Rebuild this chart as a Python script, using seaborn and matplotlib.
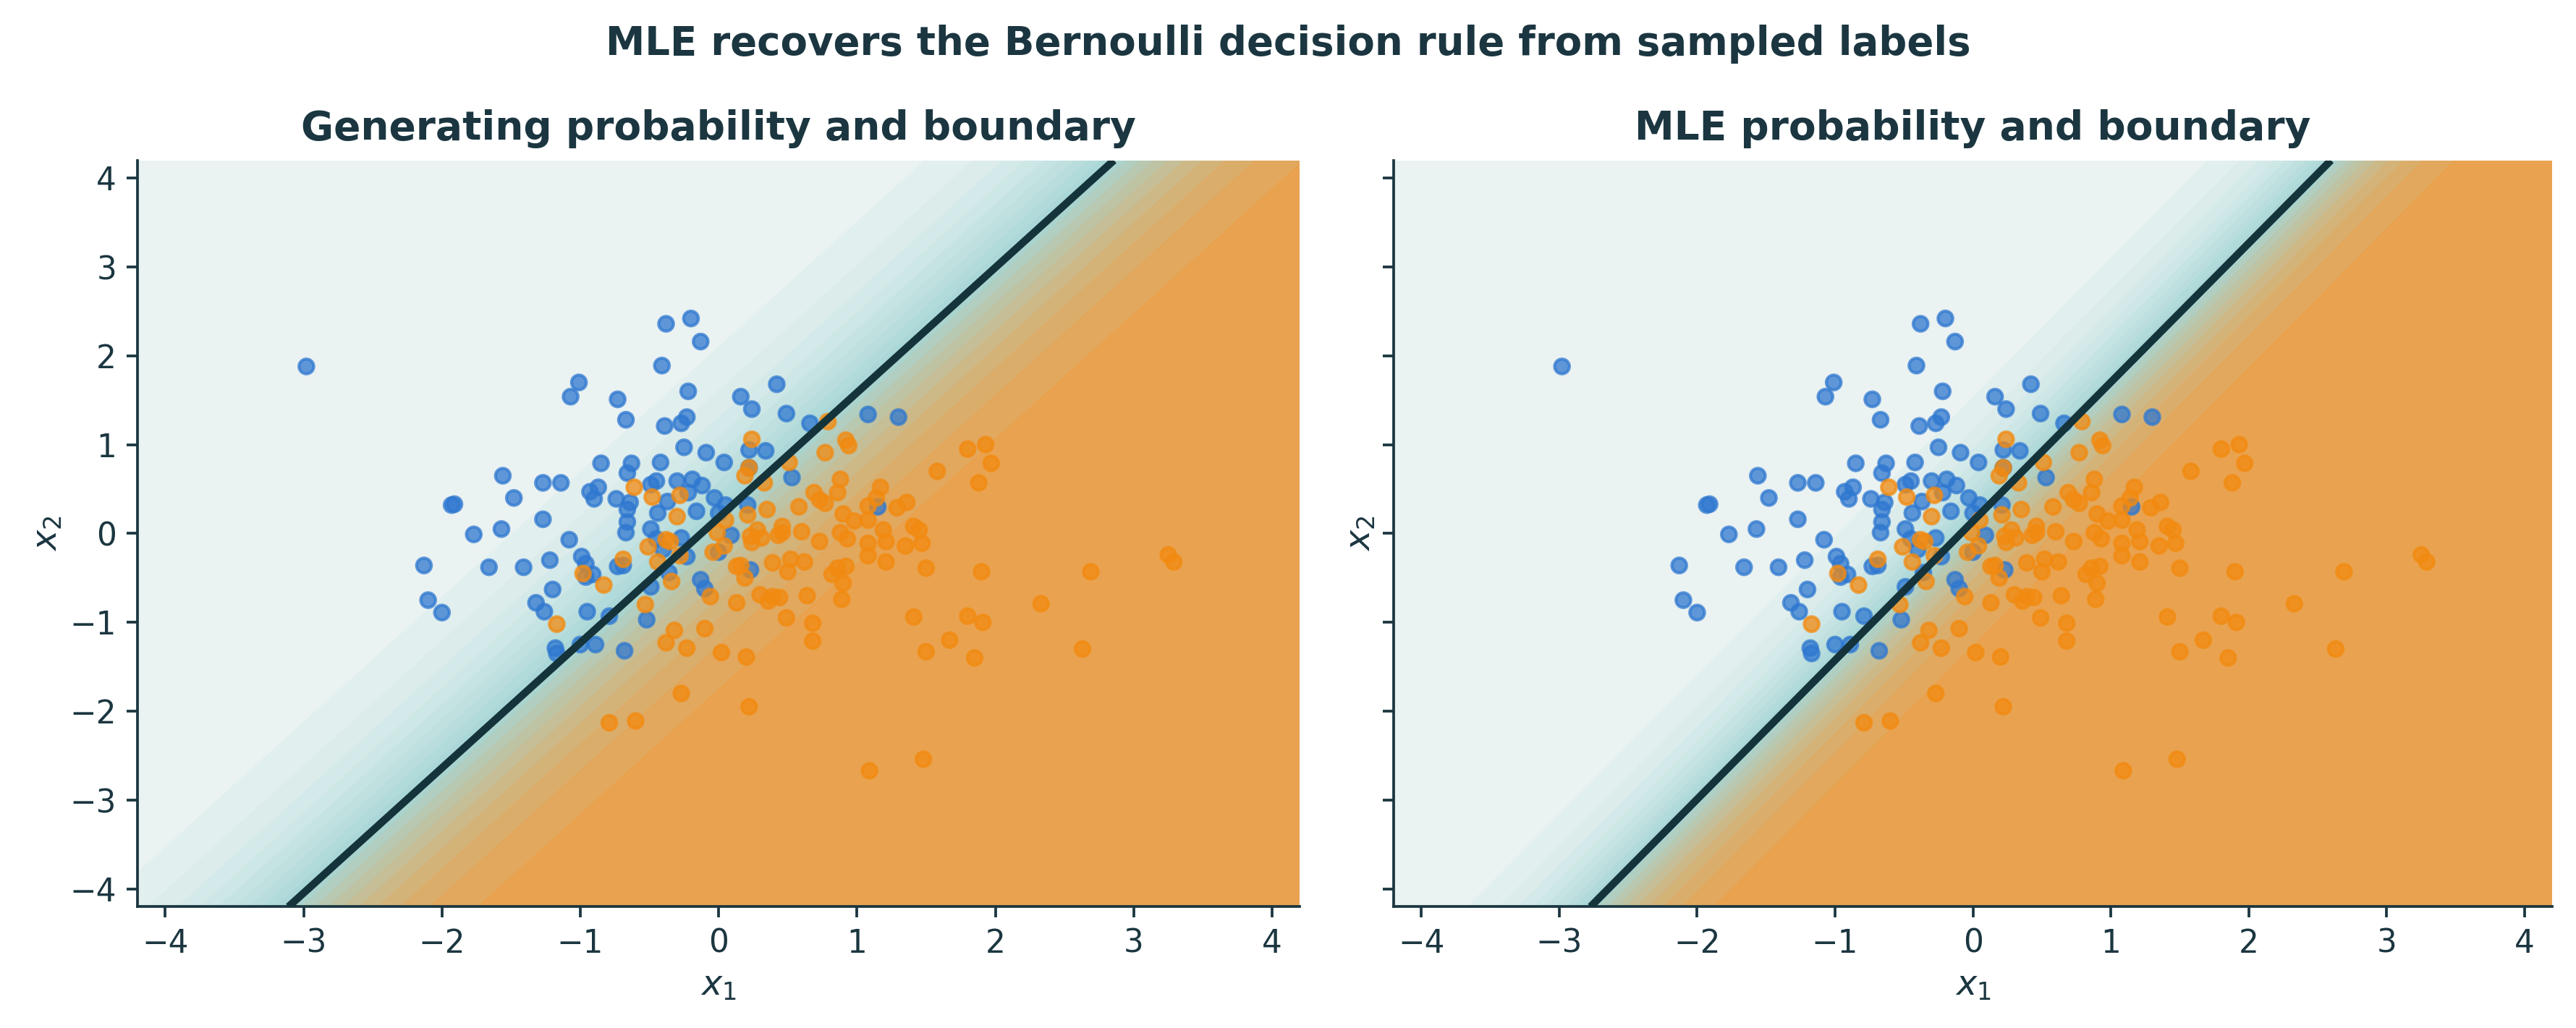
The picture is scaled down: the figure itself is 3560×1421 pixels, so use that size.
import numpy as np
import pandas as pd
import matplotlib
matplotlib.use("Agg")
import matplotlib.pyplot as plt
from matplotlib.colors import LinearSegmentedColormap
import seaborn as sns

# ---- data ----
blue_x1 = [-2.98, -0.38, -0.20, -0.13, -0.41, -1.01, -1.07, -0.73, -0.22, -0.67,
           -0.39, -0.27, -0.23, -0.25, -0.09, -0.85, -0.63, -0.66, -0.42, -1.27,
           -1.14, -1.56, -1.48, -0.93, -0.87, -0.90, -0.74, -0.64, -0.66, -0.66,
           -0.49, -0.45, -0.30, -0.19, -0.12, -0.22, -0.37, -0.44, -0.16, -0.03,
           0.04, -1.27, 0.00, 0.42, 0.16, 0.24, 0.49, 0.66, 1.08, 1.30,
           0.22, 0.34, 0.22, 0.53, 0.05, 0.21, 1.15, -1.57, -1.08, -1.22,
           -1.41, -0.99, -0.96, -0.91, -0.96, -1.20, -1.32, -1.26, -0.95, -0.79,
           -1.18, -1.17, -1.00, -0.89, -0.68, -0.73, -0.69, -0.67, -0.49, -0.45,
           -0.40, -0.27, -0.23, -0.36, -0.49, -0.52, -0.13, -0.10, 0.00, 0.09,
           0.23, -1.93, -1.91, -1.77, -2.13, -1.66, -2.10, -2.00]
blue_x2 = [1.88, 2.36, 2.42, 2.16, 1.89, 1.70, 1.54, 1.51, 1.60, 1.28,
           1.21, 1.24, 1.31, 0.97, 0.91, 0.79, 0.79, 0.68, 0.80, 0.57,
           0.57, 0.65, 0.40, 0.47, 0.52, 0.39, 0.39, 0.35, 0.27, 0.13,
           0.55, 0.59, 0.59, 0.61, 0.54, 0.46, 0.36, 0.23, 0.25, 0.40,
           0.80, 0.16, 0.23, 1.68, 1.54, 1.40, 1.35, 1.24, 1.34, 1.31,
           0.94, 0.93, 0.74, 0.63, 0.32, 0.32, 0.30, 0.05, -0.07, -0.30,
           -0.38, -0.26, -0.34, -0.46, -0.49, -0.63, -0.78, -0.88, -0.88, -0.93,
           -1.29, -1.35, -1.25, -1.25, -1.32, -0.37, -0.36, 0.01, 0.05, -0.06,
           -0.18, -0.05, -0.26, -0.44, -0.60, -0.97, -0.52, -0.62, -0.21, -0.02,
           -0.41, 0.32, 0.33, -0.01, -0.36, -0.38, -0.75, -0.89]

orange_x1 = [-0.61, -0.48, -0.28, -0.30, 0.79, 0.24, 0.92, 0.94, 0.77, 0.22,
             0.19, 0.51, 0.33, 0.88, 0.69, 0.86, 0.73, 0.77, 1.17, 1.14,
             1.08, 1.29, 1.36, 1.58, 0.58, 0.35, 0.21, 0.05, 0.90, -0.51,
             -0.38, -0.35, -0.44, -0.28, -0.69, -0.98, -0.83, -0.34, -0.53, -1.17,
             -0.32, -0.38, -0.23, -0.10, 0.02, -0.01, -0.04, -0.06, 0.98, 1.08,
             0.28, 0.23, 0.24, 0.31, 0.43, 0.46, 0.46, 0.60, 0.73, 0.88,
             0.93, 1.08, 1.08, 1.19, 1.21, 1.35, 1.41, 1.45, 1.47, 1.50,
             1.21, 0.04, 0.13, 0.16, 0.19, 0.39, 0.52, 0.62, 0.50, 0.82,
             0.86, 0.92, 0.90, 0.89, 0.13, 0.30, 0.36, 0.39, 0.44, 0.64,
             0.49, 0.68, 0.68, 1.41, 1.50, 0.20, 1.80, 1.93, 1.97, 1.88,
             1.90, 2.69, 3.25, 3.29, 2.33, 1.80, 1.91, 1.67, 1.85, 2.63,
             1.48, 1.09, -0.79, -0.60, -0.27, 0.22]
orange_x2 = [0.52, 0.41, 0.43, 0.19, 1.26, 1.06, 1.05, 0.99, 0.91, 0.74,
             0.65, 0.80, 0.57, 0.61, 0.46, 0.46, 0.38, 0.34, 0.52, 0.40,
             0.31, 0.29, 0.35, 0.70, 0.30, 0.27, 0.21, 0.15, 0.22, -0.15,
             -0.07, -0.09, -0.32, -0.25, -0.29, -0.45, -0.58, -0.54, -0.80, -1.02,
             -1.09, -1.23, -1.29, -1.07, -1.34, 0.01, -0.21, -0.71, 0.14, 0.15,
             0.04, -0.03, -0.10, -0.05, -0.02, 0.08, 0.01, 0.02, -0.09, 0.01,
             -0.06, -0.11, -0.25, 0.04, -0.09, -0.14, 0.08, 0.04, -0.11, -0.39,
             -0.32, -0.14, -0.37, -0.36, -0.50, -0.33, -0.29, -0.32, -0.43, -0.46,
             -0.39, -0.37, -0.56, -0.74, -0.78, -0.69, -0.76, -0.71, -0.72, -0.70,
             -0.95, -1.01, -1.21, -0.94, -1.33, -1.39, 0.95, 1.00, 0.79, 0.57,
             -0.43, -0.43, -0.24, -0.32, -0.79, -0.93, -1.00, -1.20, -1.40, -1.30,
             -2.54, -2.67, -2.13, -2.11, -1.80, -1.95]

# logistic model parameters (w1, w2, b) for each panel
gen_params = [2.14, -1.52, 0.27]
mle_params = [3.27, -2.09, 0.29]

panel_titles = ["Generating probability and boundary", "MLE probability and boundary"]
suptitle = "MLE recovers the Bernoulli decision rule from sampled labels"
tick_values = [-4, -3, -2, -1, 0, 1, 2, 3, 4]

# ---- styling ----
TEXT = "#1b3640"
BLUE = "#2f78d0"
ORANGE = "#f28a10"
cmap = LinearSegmentedColormap.from_list(
    "prob", [(0.0, "#edf3f3"), (0.5, "#a6d6d5"), (1.0, "#eca049")])

sns.set_theme(style="ticks")
plt.rcParams["font.family"] = ["DejaVu Sans"]
plt.rcParams.update({
    "text.color": TEXT, "axes.labelcolor": TEXT, "xtick.color": TEXT,
    "ytick.color": TEXT, "axes.edgecolor": TEXT,
})

df = pd.concat([
    pd.DataFrame({"x1": blue_x1, "x2": blue_x2, "y": 0}),
    pd.DataFrame({"x1": orange_x1, "x2": orange_x2, "y": 1}),
], ignore_index=True)

fig, axes = plt.subplots(1, 2, figsize=(11.87, 4.737), dpi=300, sharey=True)
axes[0].set_position([0.0534, 0.118, 0.451, 0.726])
axes[1].set_position([0.5409, 0.118, 0.4496, 0.726])

lim = 4.2
g = np.linspace(-lim, lim, 500)
xx, yy = np.meshgrid(g, g)
levels = np.linspace(0, 1, 21)

for ax, params, title in zip(axes, [gen_params, mle_params], panel_titles):
    w1, w2, b = params
    p = 1.0 / (1.0 + np.exp(-(w1 * xx + w2 * yy + b)))
    ax.contourf(xx, yy, p, levels=levels, cmap=cmap)
    ax.contour(xx, yy, p, levels=levels[1:-1], cmap=cmap, linewidths=0.35, alpha=0.9)
    sns.scatterplot(data=df, x="x1", y="x2", hue="y", palette={0: BLUE, 1: ORANGE},
                    s=24, alpha=0.75, edgecolor="face", linewidth=1.0,
                    legend=False, ax=ax, zorder=3)
    # decision boundary w1*x1 + w2*x2 + b = 0
    ax.contour(xx, yy, w1 * xx + w2 * yy + b, levels=[0], colors=["#15333a"],
               linewidths=2.5, zorder=4)
    ax.set_xlim(-lim, lim)
    ax.set_ylim(-lim, lim)
    ax.set_xticks(tick_values)
    ax.set_yticks(tick_values)
    ax.tick_params(labelsize=10.5, length=3.5, width=0.9)
    ax.set_xlabel(r"$x_1$", fontsize=11.5, labelpad=3)
    ax.set_ylabel(r"$x_2$", fontsize=11.5, labelpad=2)
    ax.set_title(title, fontsize=13.2, fontweight="bold", color=TEXT, pad=7)
    for s in ["left", "bottom"]:
        ax.spines[s].set_linewidth(0.9)
    sns.despine(ax=ax)

axes[1].tick_params(labelleft=False)
axes[1].yaxis.label.set_visible(True)

fig.suptitle(suptitle, fontsize=13.1, fontweight="bold", color=TEXT, y=0.957, va="center")
fig.savefig("out.png", dpi=300)
